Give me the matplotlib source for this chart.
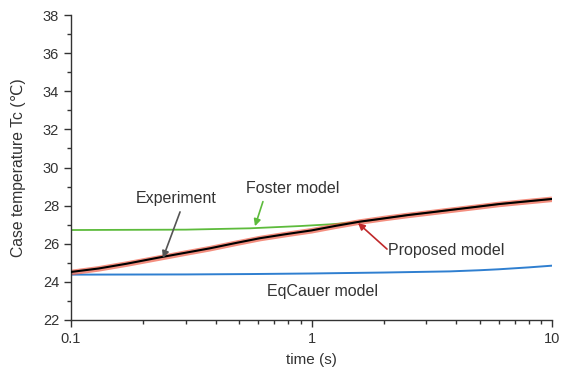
import numpy as np
import matplotlib.pyplot as plt
from matplotlib.ticker import FixedLocator, FuncFormatter, MultipleLocator

plt.rcParams['font.family'] = ['Liberation Sans', 'DejaVu Sans']

# measured case temperature (s, degC)
t_exp = [0.1, 0.13, 0.17, 0.235, 0.3, 0.378, 0.48, 0.61, 0.78, 1.0, 1.25, 1.59, 2.0, 2.5, 3.1, 3.76, 4.8, 6.0, 7.8, 10.0]
T_exp = [24.52, 24.70, 24.95, 25.29, 25.53, 25.76, 26.03, 26.29, 26.50, 26.70, 26.93, 27.16, 27.33, 27.50, 27.64, 27.77, 27.93, 28.08, 28.22, 28.35]

# proposed model follows the measurement closely
t_prop = [0.1, 0.13, 0.17, 0.235, 0.3, 0.378, 0.48, 0.61, 0.78, 1.0, 1.25, 1.59, 2.0, 2.5, 3.1, 3.76, 4.8, 6.0, 7.8, 10.0]
T_prop = [24.49, 24.68, 24.93, 25.26, 25.51, 25.74, 26.01, 26.27, 26.48, 26.68, 26.91, 27.14, 27.32, 27.48, 27.62, 27.75, 27.91, 28.06, 28.20, 28.33]

# Foster network model
t_foster = [0.1, 0.3, 0.555, 0.9, 1.2, 1.45, 1.7, 2.0, 2.5, 3.76, 6.0, 10.0]
T_foster = [26.72, 26.74, 26.81, 26.93, 27.02, 27.10, 27.20, 27.33, 27.50, 27.77, 28.08, 28.35]

# equivalent Cauer model
t_cauer = [0.1, 0.3, 0.555, 1.0, 2.0, 3.76, 5.0, 6.0, 8.0, 10.0]
T_cauer = [24.38, 24.39, 24.41, 24.44, 24.49, 24.55, 24.61, 24.66, 24.76, 24.85]

fig = plt.figure(figsize=(5.61, 3.71), dpi=100)
ax = fig.add_axes([0.1266, 0.1375, 0.8574, 0.822])

ax.plot(t_prop, T_prop, color='#f0604a', lw=4, alpha=0.7, zorder=2, solid_capstyle='butt')
ax.plot(t_exp, T_exp, color='black', lw=1.5, zorder=3)
ax.plot(t_foster, T_foster, color='#5dbb3c', lw=1.3, zorder=1)
ax.plot(t_cauer, T_cauer, color='#2f7fd0', lw=1.4, zorder=1)

ax.set_xscale('log')
ax.set_xlim(0.1, 10)
ax.set_ylim(22, 38)
ax.xaxis.set_major_locator(FixedLocator([0.1, 1, 10]))
ax.xaxis.set_major_formatter(FuncFormatter(lambda v, p: f'{v:g}'))
ax.yaxis.set_major_locator(MultipleLocator(2))
ax.yaxis.set_minor_locator(MultipleLocator(1))

for side in ['top', 'right']:
    ax.spines[side].set_visible(False)
for side in ['left', 'bottom']:
    ax.spines[side].set_color('#333333')
    ax.spines[side].set_linewidth(1.0)
ax.tick_params(which='major', length=5, width=1, color='#333333', labelsize=10.5, labelcolor='#333333')
ax.tick_params(which='minor', length=3, width=1, color='#333333')

ax.set_xlabel('time (s)', fontsize=11, color='#333333', labelpad=5)
ax.set_ylabel('Case temperature Tc (\u2103)', fontsize=11.3, color='#333333', labelpad=12)

txt = dict(fontsize=11.5, color='#333333')

# labels
ax.text(0.274, 28.39, 'Experiment', ha='center', va='center', **txt)
ax.text(0.838, 28.91, 'Foster model', ha='center', va='center', **txt)
ax.text(2.08, 25.64, 'Proposed model', ha='left', va='center', **txt)
ax.text(1.106, 23.49, 'EqCauer model', ha='center', va='center', **txt)

# pointers
ax.annotate('', xy=(0.241, 25.25), xytext=(0.284, 27.67),
            arrowprops=dict(arrowstyle='-|>', color='#555555', lw=1.2, shrinkA=0, shrinkB=0))
ax.annotate('', xy=(0.582, 26.92), xytext=(0.628, 28.21),
            arrowprops=dict(arrowstyle='-|>', color='#5dbb3c', lw=1.2, shrinkA=0, shrinkB=0))
ax.annotate('', xy=(1.56, 27.09), xytext=(2.06, 25.72),
            arrowprops=dict(arrowstyle='-|>', color='#c0282a', lw=1.2, shrinkA=0, shrinkB=0))

fig.savefig('out.png', dpi=100)
